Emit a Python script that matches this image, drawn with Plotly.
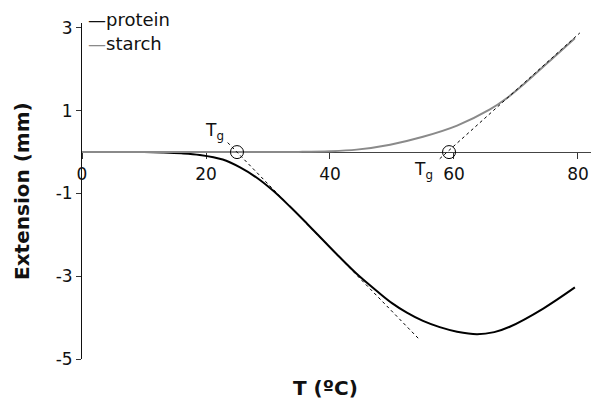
import plotly.graph_objects as go

# Temperature sweep (ºC) and measured extension (mm)
protein_T = [7, 10, 13, 16, 19, 22.7, 25.5, 28.2, 30.8, 33.5, 36.3, 38.9, 41.5, 44.3, 47.5, 50, 52.4, 55, 57.7, 60.5, 63.7, 66.5, 69, 74.4, 79.5]
protein_E = [0, 0, -0.01, -0.03, -0.07, -0.18, -0.37, -0.62, -0.93, -1.31, -1.73, -2.13, -2.53, -2.94, -3.35, -3.65, -3.88, -4.08, -4.23, -4.34, -4.4, -4.35, -4.22, -3.78, -3.27]

starch_T = [0, 20, 35, 40, 44.3, 49.7, 55, 60.5, 65.8, 68.5, 71.1, 76.6, 79.5]
starch_E = [0, 0, 0.005, 0.02, 0.06, 0.18, 0.37, 0.64, 1.03, 1.3, 1.62, 2.36, 2.75]

# Tangent construction lines used to locate Tg
protein_tan_T = [23.5, 54.5]
protein_tan_E = [0.23, -4.54]
starch_tan_T = [57.7, 80.3]
starch_tan_E = [-0.16, 2.88]

# Glass transition points
tg_T = [25, 59.2]
tg_E = [0, 0]

x_ticks = [0, 20, 40, 60, 80]
y_ticks = [-5, -3, -1, 1, 3]
y_tick_text = ["-5", "-3", "-1", "1", "3"]

FONT = "DejaVu Sans"
Y_MIN, Y_MAX = -5, 3.12

fig = go.Figure()
fig.add_trace(go.Scatter(x=protein_T, y=protein_E, mode="lines", line=dict(color="black", width=2, shape="spline", smoothing=1.0), showlegend=False))
fig.add_trace(go.Scatter(x=starch_T, y=starch_E, mode="lines", line=dict(color="#8a8a8a", width=2, shape="spline"), showlegend=False))
fig.add_trace(go.Scatter(x=protein_tan_T, y=protein_tan_E, mode="lines", line=dict(color="black", width=1, dash="dot"), showlegend=False))
fig.add_trace(go.Scatter(x=starch_tan_T, y=starch_tan_E, mode="lines", line=dict(color="black", width=1, dash="dot"), showlegend=False))
fig.add_trace(go.Scatter(x=tg_T, y=tg_E, mode="markers", marker=dict(symbol="circle-open", size=13, color="black", line=dict(width=1)), showlegend=False))

annotations = [
    dict(x=0.008, y=1.01, xref="paper", yref="paper", xanchor="left", yanchor="middle",
         text="—protein", showarrow=False, font=dict(family=FONT, size=18, color="#111")),
    dict(x=0.008, y=0.94, xref="paper", yref="paper", xanchor="left", yanchor="middle",
         text="<span style='color:#8a8a8a'>—</span>starch", showarrow=False, font=dict(family=FONT, size=18, color="#111")),
    dict(x=tg_T[0], y=tg_E[0], xref="x", yref="y", text="T<sub>g</sub>", showarrow=False,
         xshift=-22, yshift=21, font=dict(family=FONT, size=17, color="#111")),
    dict(x=tg_T[1], y=tg_E[1], xref="x", yref="y", text="T<sub>g</sub>", showarrow=False,
         xshift=-26, yshift=-18, font=dict(family=FONT, size=17, color="#111")),
    dict(x=0.479, y=-0.086, xref="paper", yref="paper", text="<b>T (ºC)</b>", showarrow=False,
         xanchor="center", yanchor="middle", font=dict(family=FONT, size=20, color="#111")),
    dict(x=-0.118, y=0.5, xref="paper", yref="paper", text="<b>Extension (mm)</b>", showarrow=False,
         textangle=-90, xanchor="center", yanchor="middle", font=dict(family=FONT, size=20, color="#111")),
]

fig.update_layout(
    width=592, height=400,
    margin=dict(l=82, r=1, t=23, b=41),
    paper_bgcolor="white", plot_bgcolor="white",
    font=dict(family=FONT, size=16, color="#111"),
    annotations=annotations,
    xaxis=dict(range=[0, 82.1], tickvals=x_ticks, ticks="outside", ticklen=6, tickcolor="#333",
               showline=True, linecolor="#444", linewidth=1, showgrid=False, zeroline=False,
               anchor="free", position=(0 - Y_MIN) / (Y_MAX - Y_MIN), layer="below traces",
               tickfont=dict(family=FONT, size=17, color="#111")),
    yaxis=dict(range=[Y_MIN, Y_MAX], tickvals=y_ticks, ticktext=y_tick_text, ticks="outside", ticklen=5,
               tickcolor="#333", showline=True, linecolor="#111", linewidth=1, showgrid=False, zeroline=False,
               tickfont=dict(family=FONT, size=17, color="#111")),
)

fig.write_html("out.html")
